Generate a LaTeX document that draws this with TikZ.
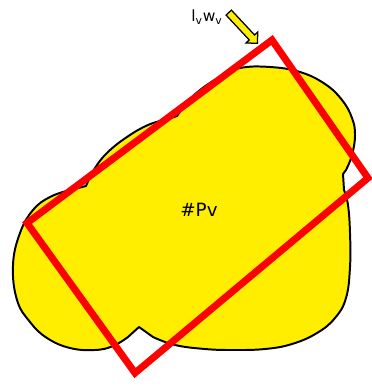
\documentclass[tikz,border=0pt]{standalone}
\usepackage{fontspec}
\setsansfont{DejaVu Sans}
\usetikzlibrary{shapes.arrows,calc}
\definecolor{blobyellow}{RGB}{255,238,0}

\begin{document}
\begin{tikzpicture}[
    x=0.025cm, y=-0.025cm,
    blob/.style={draw=black, line width=1.4pt, fill=blobyellow, line join=round},
    redbox/.style={draw=red, line width=5pt},
    fatarrow/.style={single arrow, draw=black, line width=0.9pt, fill=blobyellow, inner sep=0.075cm, minimum height=1.05cm, single arrow head extend=0.11cm, anchor=tip, rotate=-47},
    lbl/.style={font=\sffamily\fontsize{11}{13}\selectfont, inner sep=1pt}
]
    \useasboundingbox (0,0) rectangle (371,388);

    % yellow blob
    \draw[blob] (139,327)
        -- plot[smooth, tension=0.7] coordinates {(153,337) (175,345) (205,349) (233,350) (265,349) (292,344) (317,333) (335,318) (346,298) (350,267) (350,233) (348,205) (344,190)}
        -- (343,174)
        -- plot[smooth, tension=0.7] coordinates {(346,170) (352,155) (355,135) (352,118) (342,100) (325,84) (300,72) (270,67) (240,68) (220,77) (200,90) (186,104) (177,116)}
        -- plot[smooth, tension=0.7] coordinates {(168,119) (148,125) (127,137) (108,152) (95,168) (86,186)}
        -- plot[smooth, tension=0.7] coordinates {(70,190) (50,197) (33,210) (20,233) (13,265) (17,300) (30,322) (47,338) (70,348) (95,350) (113,346) (128,337)}
        -- cycle;

    % red box
    \coordinate (rt) at (272,40);
    \coordinate (rr) at (368,178);
    \coordinate (rb) at (135,373);
    \coordinate (rl) at (27,223);
    \draw[redbox] (rl) -- (rt) -- (rr) -- (rb) -- cycle;

    \node (pv) [lbl, font=\sffamily\fontsize{13}{15}\selectfont] at (199,210) {\#Pv};

    \node (lw) [lbl] at (207,17) {l\textsubscript{v}w\textsubscript{v}};
    \coordinate (aim) at (258,44);
    \node (arr) [fatarrow] at (aim) {};
\end{tikzpicture}
\end{document}
